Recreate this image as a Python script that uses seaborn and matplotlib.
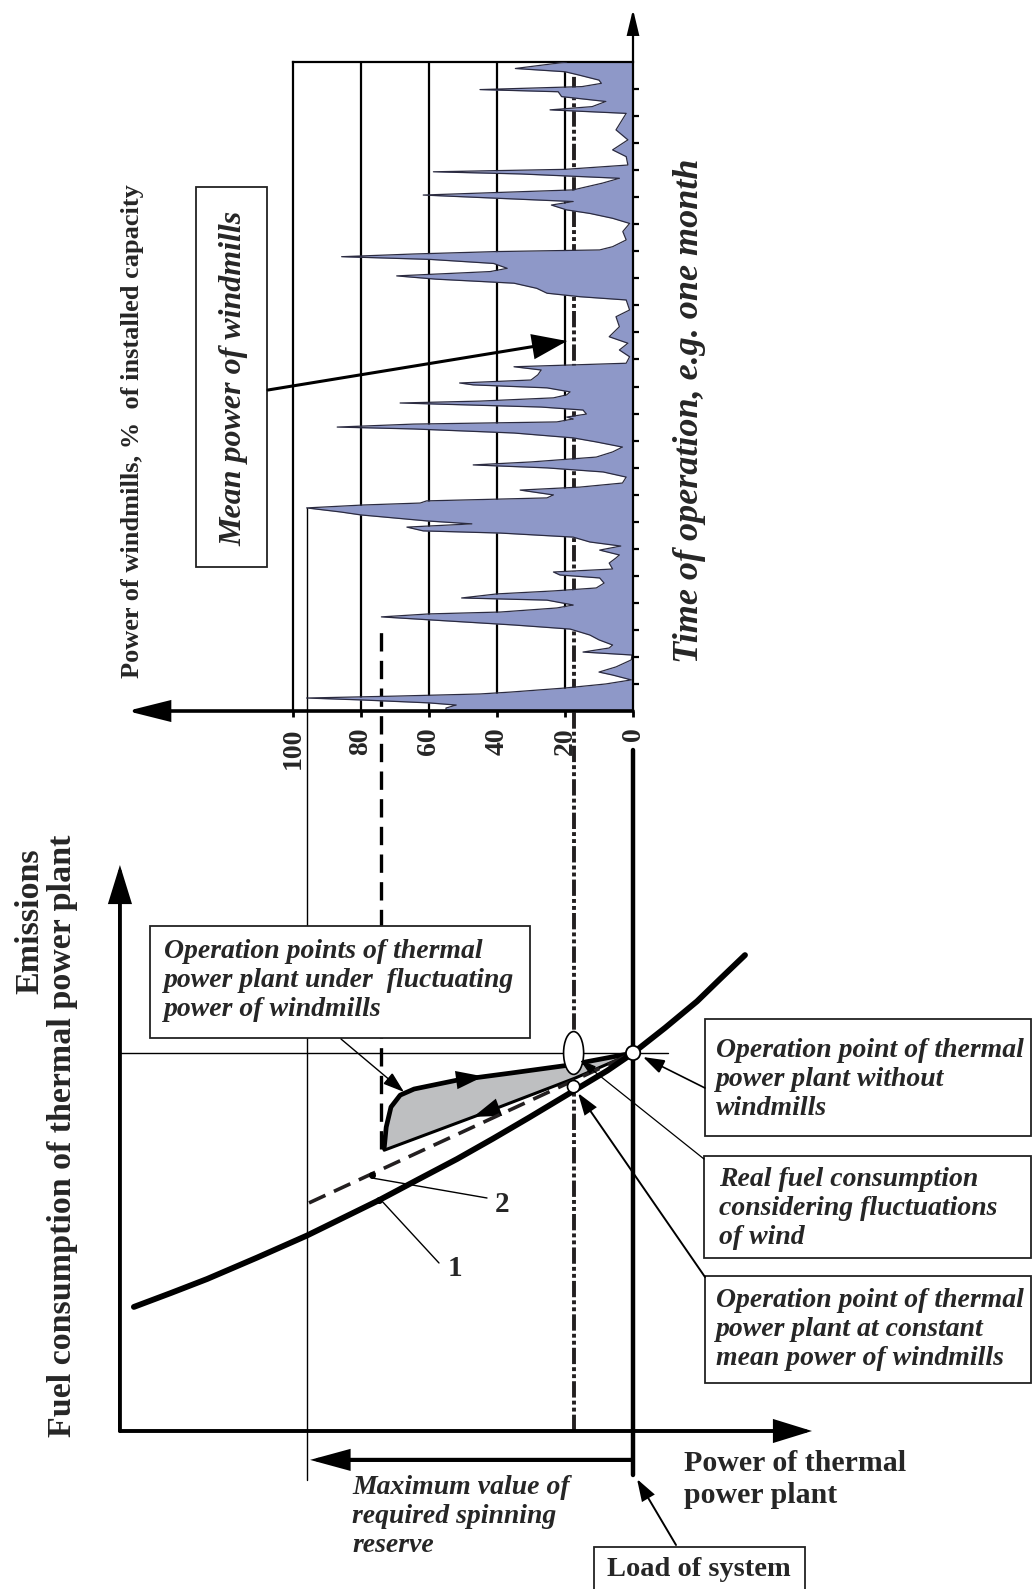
import matplotlib
matplotlib.use("Agg")
import matplotlib.pyplot as plt
from matplotlib.patches import Rectangle, Ellipse, Circle
import seaborn as sns

sns.set_theme(style="white")
plt.rcParams['font.family'] = ['Liberation Serif', 'DejaVu Serif']

# ---------------- data ----------------
# wind power time series (time in days of the month, power in % of installed capacity)
time_days = [0.00, 0.11, 0.22, 0.30, 0.41, 0.48, 0.55, 0.63, 0.70, 0.85, 1.00, 1.15, 1.33, 1.44, 1.63,
             1.89, 2.07, 2.18, 2.33, 2.44, 2.63, 2.81, 2.92, 3.03, 3.18, 3.37, 3.48, 3.59, 3.66, 3.81,
             3.92, 4.10, 4.18, 4.33, 4.44, 4.55, 4.73, 4.92, 5.03, 5.14, 5.25, 5.47, 5.66, 5.77, 5.95,
             6.10, 6.25, 6.43, 6.58, 6.66, 6.80, 6.92, 7.03, 7.25, 7.36, 7.51, 7.62, 7.69, 7.77, 7.88,
             7.99, 8.17, 8.28, 8.43, 8.65, 8.84, 8.99, 9.10, 9.21, 9.39, 9.58, 9.76, 9.95, 10.10, 10.28,
             10.43, 10.50, 10.61, 10.69, 10.80, 10.87, 10.98, 11.13, 11.24, 11.39, 11.46, 11.58, 11.69,
             11.80, 11.95, 12.06, 12.13, 12.24, 12.43, 12.61, 12.73, 12.86, 13.10, 13.35, 13.60, 13.84,
             14.21, 14.58, 14.83, 15.20, 15.32, 15.45, 15.63, 15.82, 15.97, 16.09, 16.25, 16.37, 16.55,
             16.70, 16.80, 16.90, 16.99, 17.05, 17.17, 17.42, 17.73, 18.03, 18.22, 18.40, 18.53, 18.71,
             18.84, 18.96, 19.08, 19.27, 19.52, 19.70, 19.86, 19.94, 20.03, 20.19, 20.50, 20.75, 21.12,
             21.49, 22.10, 22.23, 22.35, 22.54, 22.72, 22.90, 22.98, 23.09, 23.21, 23.33, 23.52, 23.64,
             23.76, 24.00]
wind_pct = [55, 55, 52, 60, 80, 96, 70, 45, 36, 20, 8, 0.5, 6, 10, 5,
            0.5, 0.3, 14.7, 7, 6, 10, 12.7, 15.6, 18.5, 35, 60, 74, 60, 39, 22.4,
            17.6, 25.3, 50.4, 40, 23.4, 10.8, 8.5, 9.8, 21.5, 23.4, 6, 7, 5, 4, 9.8,
            3.6, 12.7, 17.6, 39, 61.7, 66.5, 47.4, 60.7, 80, 86, 96, 79, 62.6, 60.7, 25.3,
            23.4, 33.2, 15.6, 3.1, 2, 8.8, 25.3, 47, 30, 10.8, 6, 3.1, 10.8, 17.6, 35,
            64.5, 87, 64.5, 22.4, 17.6, 19.5, 13.7, 14.7, 27, 68.5, 45, 23.4, 19.5,
            18.5, 25.3, 47, 51, 30, 28, 27, 35, 2, 1, 4, 1.5, 7,
            4, 5, 1, 2, 15.6, 25.3, 28.3, 35, 58, 69.5, 42, 37, 41,
            59.7, 85.7, 64.5, 40, 9.8, 6, 2, 3, 1, 6, 12.7, 19.5, 24,
            17.6, 40, 61.7, 17.6, 9, 4, 33, 58.7, 20, 1.5, 2, 6, 1.5,
            5, 2, 24.4, 12, 8, 21, 22, 45, 15, 9.3, 10, 16, 20,
            34.6, 19.5]
wind_ticks = [100, 80, 60, 40, 20, 0]
time_ticks = list(range(1, 24))
mean_wind = 17.5        # mean power of windmills, %
reserve_wind = 74       # dashed marker level, %
max_wind = 96           # maximum wind power, %
load = 150              # load of system (thermal power without windmills)

# fuel consumption curve 1 (thermal power, fuel)
curve1_power = [3.2, 14.1, 24.7, 39.4, 54.1, 64.7, 75.3, 86.8, 98.2, 108.8, 119.4, 132.9,
                142.4, 150.0, 159.4, 168.8, 175.6, 182.9]
curve1_fuel = [36.5, 40.6, 44.7, 51.0, 57.5, 62.7, 67.9, 74.0, 80.0, 86.0, 92.2, 100.3,
               106.0, 111.2, 118.6, 126.4, 133.0, 140.0]
# line 2 (dashed)
line2_power = [54.7, 150.0]
line2_fuel = [67.1, 111.2]
# operation points loop under fluctuating wind
loop_top_power = [76.8, 77.4, 78.8, 81.5, 85.6, 98.2, 114.1, 130.9, 150.0]
loop_top_fuel = [83.2, 89.4, 95.3, 98.8, 100.6, 103.2, 105.3, 107.6, 111.2]
loop_bot_power = [150.0, 132.9, 106.8, 76.8]
loop_bot_fuel = [111.2, 103.8, 93.8, 82.6]
label_dot_power = [75.3, 73.2]
label_dot_fuel = [68.0, 75.3]
op_fuel = 111.2          # fuel at operation point without windmills
mean_op_fuel = 101.3     # fuel at constant mean wind power

# ---------------- figure ----------------
W, H = 1034, 1589
fig = plt.figure(figsize=(W / 100, H / 100), dpi=100)
fig.patch.set_facecolor('white')


def rect(x0, y0, x1, y1):
    return [x0 / W, 1 - y1 / H, (x1 - x0) / W, (y1 - y0) / H]


BI = dict(weight='bold', style='italic')
B = dict(weight='bold')
BLUE = '#8e98c8'


def arrow(ax, start, end, lw=1.2, hl=0.5, hw=0.18, ms=30, color='black'):
    ax.annotate('', xy=end, xytext=start, xycoords='data', textcoords='data',
                arrowprops=dict(arrowstyle=f'-|>,head_length={hl},head_width={hw}',
                                lw=lw, color=color, mutation_scale=ms,
                                shrinkA=0, shrinkB=0, joinstyle='miter'),
                annotation_clip=False)


# lower chart: fuel vs thermal power
ax_f = fig.add_axes(rect(123, 865, 812, 1431))
ax_f.set_xlim(0, 202.6)
ax_f.set_ylim(0, 166.5)
ax_f.patch.set_alpha(0)
for s in ax_f.spines.values():
    s.set_visible(False)
ax_f.set_xticks([])
ax_f.set_yticks([])
ax_f.set_zorder(1)

# upper chart: wind power vs time
ax_w = fig.add_axes(rect(293, 62, 633, 711))
ax_w.set_xlim(100, 0)
ax_w.set_ylim(0, 24)
ax_w.patch.set_alpha(0)
ax_w.set_zorder(2)

# overlay for annotations (pixel coordinates)
ov = fig.add_axes([0, 0, 1, 1])
ov.set_xlim(0, W)
ov.set_ylim(H, 0)
ov.axis('off')
ov.set_zorder(3)

# ---- upper chart ----
for g in [80, 60, 40, 20]:
    ax_w.axvline(g, color='black', lw=1.6, zorder=1)
ax_w.fill_betweenx(time_days, 0, wind_pct, color=BLUE, lw=0, zorder=2)
sns.lineplot(x=wind_pct, y=time_days, sort=False, estimator=None, color='#2b2b40',
             lw=0.9, ax=ax_w, zorder=3)
for side in ['right', 'bottom']:
    ax_w.spines[side].set_visible(False)
for side in ['left', 'top']:
    ax_w.spines[side].set_visible(True)
    ax_w.spines[side].set_color('black')
    ax_w.spines[side].set_linewidth(1.6)
ax_w.set_xticks(wind_ticks)
ax_w.set_xticklabels([str(v) for v in wind_ticks], rotation=90, fontsize=20, **B)
ax_w.tick_params(axis='x', bottom=True, direction='out', length=4, width=2,
                 color='black', pad=8)
ax_w.yaxis.tick_right()
ax_w.set_yticks(time_ticks)
ax_w.set_yticklabels([])
ax_w.tick_params(axis='y', right=True, left=False, direction='out', length=4,
                 width=1.6, color='black')
ax_w.set_xlabel('')
ax_w.set_ylabel('')
# axes arrows of upper chart
arrow(ax_w, (0, 0), (148.8, 0), lw=2.6, hl=0.6, hw=0.15, ms=42)
arrow(ax_w, (0, 0), (0, 25.95), lw=1.6, hl=0.5, hw=0.12, ms=30)

# ---- lower chart ----
# axes
arrow(ax_f, (-0.9, 0), (202.6, 0), lw=2.8, hl=0.55, hw=0.17, ms=40)
arrow(ax_f, (-0.9, 0), (-0.9, 166.5), lw=2.8, hl=0.55, hw=0.17, ms=40)

# lines connecting both charts (wind level -> thermal power = load - wind)
ax_f.plot([load - mean_wind] * 2, [0, 402.6], color='#231f20', lw=2.8,
          ls=(0, (4.2, 0.8, 1.0, 0.8, 1.0, 0.8)), clip_on=False, zorder=1)
ax_f.plot([load - reserve_wind] * 2, [83.0, 237.0], color='black', lw=2.4,
          ls=(0, (5.5, 2.8)), clip_on=False, zorder=1)
ax_f.plot([load - max_wind] * 2, [-14.4, 271.5], color='black', lw=1.0,
          clip_on=False, zorder=1)
ax_f.plot([load] * 2, [-12.9, 200.3], color='black', lw=3.2, clip_on=False, zorder=1)
ax_f.plot([-0.9, 160.3], [op_fuel] * 2, color='black', lw=1.0, clip_on=False, zorder=1)

# loop of operation points
ax_f.fill(loop_top_power + loop_bot_power, loop_top_fuel + loop_bot_fuel,
          color='#bebfc1', lw=0, zorder=2)
sns.lineplot(x=loop_top_power, y=loop_top_fuel, sort=False, estimator=None,
             color='black', lw=3.4, ax=ax_f, zorder=3)
sns.lineplot(x=loop_bot_power, y=loop_bot_fuel, sort=False, estimator=None,
             color='black', lw=2.2, ax=ax_f, zorder=3)
arrow(ax_f, (98.5, 103.3), (106.0, 104.3), lw=0, hl=0.9, hw=0.3, ms=22)
arrow(ax_f, (110.5, 95.2), (103.0, 92.4), lw=0, hl=0.9, hw=0.3, ms=22)

# curve 2 (dashed) and curve 1
sns.lineplot(x=line2_power, y=line2_fuel, sort=False, estimator=None, color='#231f20',
             lw=2.6, ax=ax_f, zorder=3)
ax_f.lines[-1].set_linestyle((0, (5.0, 2.6)))
sns.lineplot(x=curve1_power, y=curve1_fuel, sort=False, estimator=None, color='black',
             lw=4.2, ax=ax_f, zorder=4)
ax_f.lines[-1].set_solid_joinstyle('round')
ax_f.plot(label_dot_power, label_dot_fuel, 'o', color='black', ms=4, zorder=5)

# operation points
ax_f.add_patch(Ellipse((load - mean_wind, op_fuel), 5.9, 12.6, facecolor='white',
                       edgecolor='black', lw=1.2, zorder=6))
ax_f.add_patch(Circle((load - mean_wind, mean_op_fuel), 1.8, facecolor='white',
                      edgecolor='black', lw=1.2, zorder=6))
ax_f.add_patch(Circle((load, op_fuel), 2.1, facecolor='white', edgecolor='black',
                      lw=1.3, zorder=6))
ax_f.set_xlabel('')
ax_f.set_ylabel('')
if ax_f.get_legend():
    ax_f.get_legend().remove()

# reserve arrow
arrow(ax_f, (load - 0.5, -8.5), (load - max_wind + 1.0, -8.5), lw=3.0, hl=0.55,
      hw=0.15, ms=40)

# ---- overlay annotations ----
def box(x0, y0, x1, y1):
    ov.add_patch(Rectangle((x0, y0), x1 - x0, y1 - y0, facecolor='white',
                           edgecolor='#222222', lw=1.3, zorder=2))


box(196, 187, 267, 567)
box(150, 926, 530, 1038)
box(705, 1019, 1031, 1136)
box(704, 1156, 1031, 1258)
box(705, 1276, 1031, 1383)
box(594, 1547, 805, 1600)

ov.text(234, 378, 'Mean power of windmills', rotation=90, ha='center', va='center',
        fontsize=23, **BI, zorder=3)
ov.text(164, 939, 'Operation points of thermal\npower plant under  fluctuating\npower of windmills',
        ha='left', va='top', fontsize=20, linespacing=1.22, **BI, zorder=3)
ov.text(716, 1038, 'Operation point of thermal\npower plant without\nwindmills',
        ha='left', va='top', fontsize=20, linespacing=1.22, **BI, zorder=3)
ov.text(719, 1167, 'Real fuel consumption\nconsidering fluctuations\nof wind',
        ha='left', va='top', fontsize=20, linespacing=1.2, **BI, zorder=3)
ov.text(716, 1288, 'Operation point of thermal\npower plant at constant\nmean power of windmills',
        ha='left', va='top', fontsize=20, linespacing=1.2, **BI, zorder=3)
ov.text(699, 1570, 'Load of system', ha='center', va='center', fontsize=20.5, **B, zorder=3)
ov.text(352, 1475, 'Maximum value of\nrequired spinning\nreserve', ha='left', va='top',
        fontsize=20, linespacing=1.2, **BI, zorder=3)
ov.text(684, 1450, 'Power of thermal\npower plant', ha='left', va='top', fontsize=21.5,
        linespacing=1.25, **B, zorder=3)
ov.text(30, 921, 'Emissions', rotation=90, ha='center', va='center', fontsize=24.5, **B)
ov.text(63, 1136, 'Fuel consumption of thermal power plant', rotation=90, ha='center',
        va='center', fontsize=24.5, **B)
ov.text(133, 431, 'Power of windmills, %  of installed capacity', rotation=90,
        ha='center', va='center', fontsize=19, **B)
ov.text(689, 411, 'Time of operation, e.g. one month', rotation=90, ha='center',
        va='center', fontsize=26, **BI)
ov.text(455, 1268, '1', ha='center', va='center', fontsize=21, **B)
ov.text(502, 1204, '2', ha='center', va='center', fontsize=21, **B)

# leader lines and callout arrows
ov.plot([439, 380], [1263, 1199], color='black', lw=1.0)
ov.plot([487, 372], [1198, 1178], color='black', lw=1.0)
arrow(ov, (268, 390), (567, 341), lw=2.2, hl=0.55, hw=0.2, ms=38)
arrow(ov, (341, 1039), (404, 1092), lw=1.0, hl=0.6, hw=0.2, ms=22)
arrow(ov, (705, 1088), (643, 1057), lw=1.2, hl=0.6, hw=0.2, ms=22)
arrow(ov, (704, 1159), (580, 1060), lw=0.9, hl=0.5, hw=0.15, ms=20)
arrow(ov, (705, 1277), (578, 1093), lw=1.4, hl=0.6, hw=0.2, ms=22)
arrow(ov, (676, 1545), (637, 1479), lw=1.4, hl=0.6, hw=0.2, ms=22)

fig.savefig('out.png', dpi=100, facecolor='white')
